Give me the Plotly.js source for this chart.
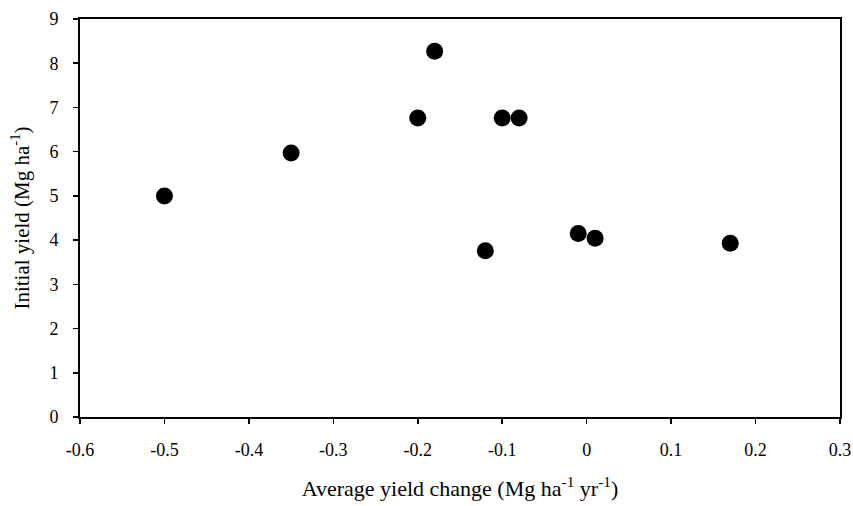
<!DOCTYPE html>
<html>
<head>
<meta charset="utf-8">
<script src="https://cdn.plot.ly/plotly-3.0.1.min.js"></script>
<style>html,body{margin:0;padding:0;background:#fff;}#chart{width:853px;height:506px;}</style>
</head>
<body>
<div id="chart"></div>
<script>
const yieldChange = [-0.5, -0.35, -0.18, -0.2, -0.1, -0.08, -0.12, -0.01, 0.01, 0.17];
const initialYield = [5.0, 5.97, 8.27, 6.76, 6.76, 6.76, 3.76, 4.15, 4.04, 3.93];
const xTicks = [-0.6, -0.5, -0.4, -0.3, -0.2, -0.1, 0, 0.1, 0.2, 0.3];
const xTickText = ['-0.6', '-0.5', '-0.4', '-0.3', '-0.2', '-0.1', '0', '0.1', '0.2', '0.3'];
const yTicks = [0, 1, 2, 3, 4, 5, 6, 7, 8, 9];

const font = {family: 'Liberation Serif, Times New Roman, serif', color: '#000'};

Plotly.newPlot('chart', [{
  x: yieldChange,
  y: initialYield,
  type: 'scatter',
  mode: 'markers',
  marker: {color: '#000', size: 17},
  hoverinfo: 'none'
}], {
  width: 853, height: 506,
  margin: {l: 80, r: 13, t: 19, b: 89},
  paper_bgcolor: '#fff', plot_bgcolor: '#fff',
  showlegend: false,
  font: Object.assign({size: 18}, font),
  xaxis: {
    range: [-0.6, 0.3],
    tickmode: 'array', tickvals: xTicks, ticktext: xTickText,
    ticks: 'outside', ticklen: 5, tickwidth: 1.5, tickcolor: '#000',
    ticklabelstandoff: 10,
    showgrid: false, zeroline: false,
    showline: true, linecolor: '#000', linewidth: 2, mirror: true,
    tickfont: Object.assign({size: 18}, font),
    title: {text: 'Average yield change (Mg ha<sup>-1</sup> yr<sup>-1</sup>)', font: Object.assign({size: 22}, font), standoff: 22}
  },
  yaxis: {
    range: [0, 9],
    tickmode: 'array', tickvals: yTicks,
    ticks: 'outside', ticklen: 5, tickwidth: 1.5, tickcolor: '#000',
    ticklabelstandoff: 11,
    showgrid: false, zeroline: false,
    showline: true, linecolor: '#000', linewidth: 2, mirror: true,
    tickfont: Object.assign({size: 18}, font),
    title: {text: 'Initial yield (Mg ha<sup>-1</sup>)', font: Object.assign({size: 21}, font), standoff: 14}
  }
}, {staticPlot: true});
</script>
</body>
</html>
